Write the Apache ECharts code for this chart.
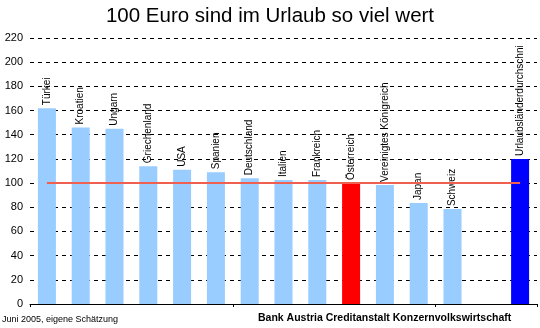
<!DOCTYPE html>
<html>
<head>
<meta charset="utf-8">
<script src="https://cdn.jsdelivr.net/npm/echarts@6/dist/echarts.min.js"></script>
<style>
html,body{margin:0;padding:0;background:#fff;}
#c{width:540px;height:328px;}
</style>
</head>
<body>
<div id="c"></div>
<script>
var categories = ['Türkei','Kroatien','Ungarn','Griechenland','USA','Spanien','Deutschland','Italien','Frankreich','Österreich','Vereinigtes Königreich','Japan','Schweiz','','Urlaubsländerdurchschni'];
var values = [162, 146, 145, 114, 111, 109, 104, 102.5, 102.5, 100, 98.5, 83.5, 78.5, null, 120];
var barColors = ['#99CCFF','#99CCFF','#99CCFF','#99CCFF','#99CCFF','#99CCFF','#99CCFF','#99CCFF','#99CCFF','#FF0000','#99CCFF','#99CCFF','#99CCFF','#99CCFF','#0000FF'];
var referenceLine = [100,100,100,100,100,100,100,100,100,100,100,100,100,100,100];
var yTicks = {min: 0, max: 220, interval: 20};
var titleText = '100 Euro sind im Urlaub so viel wert';
var sourceLeft = 'Juni 2005, eigene Schätzung';
var sourceRight = 'Bank Austria Creditanstalt Konzernvolkswirtschaft';

var chart = echarts.init(document.getElementById('c'), null, {renderer: 'canvas'});
var font = 'Liberation Sans, Arial, sans-serif';
chart.setOption({
  animation: false,
  backgroundColor: '#fff',
  title: {
    text: titleText, left: 'center', top: 1,
    textStyle: {fontFamily: font, fontSize: 20.5, fontWeight: 'normal', color: '#000'}
  },
  graphic: [
    {type: 'text', left: 2, top: 315, style: {text: sourceLeft, fontFamily: font, fontSize: 9, fill: '#000'}},
    {type: 'text', left: 258, top: 313, style: {text: sourceRight, fontFamily: font, fontSize: 10.5, fontWeight: 'bold', fill: '#000'}}
  ],
  grid: {left: 30, right: 3, top: 38, bottom: 24, containLabel: false},
  xAxis: {
    type: 'category', data: categories,
    axisLine: {show: true, lineStyle: {color: '#000', width: 1}},
    axisTick: {show: true, length: 3, lineStyle: {color: '#000'}},
    axisLabel: {show: false},
    splitLine: {show: false}
  },
  yAxis: {
    type: 'value', min: yTicks.min, max: yTicks.max, interval: yTicks.interval,
    axisLine: {show: false},
    axisTick: {show: false},
    axisLabel: {fontFamily: font, fontSize: 11, color: '#000', margin: 7},
    splitLine: {show: true, lineStyle: {color: '#000', width: 1, type: [4, 4]}}
  },
  series: [
    {
      type: 'bar',
      barWidth: 18,
      data: values.map(function (v, i) { return {value: v, itemStyle: {color: barColors[i]}}; }),
      label: {
        show: true, position: ['50%', -3], rotate: 90, align: 'left', verticalAlign: 'middle',
        fontFamily: font, fontSize: 10, color: '#000',
        formatter: function (p) { return p.value == null ? '' : categories[p.dataIndex]; }
      },
      z: 2
    },
    {
      type: 'line',
      data: referenceLine,
      symbol: 'none',
      lineStyle: {color: '#F06050', width: 2},
      z: 3,
      silent: true
    }
  ]
});
</script>
</body>
</html>
